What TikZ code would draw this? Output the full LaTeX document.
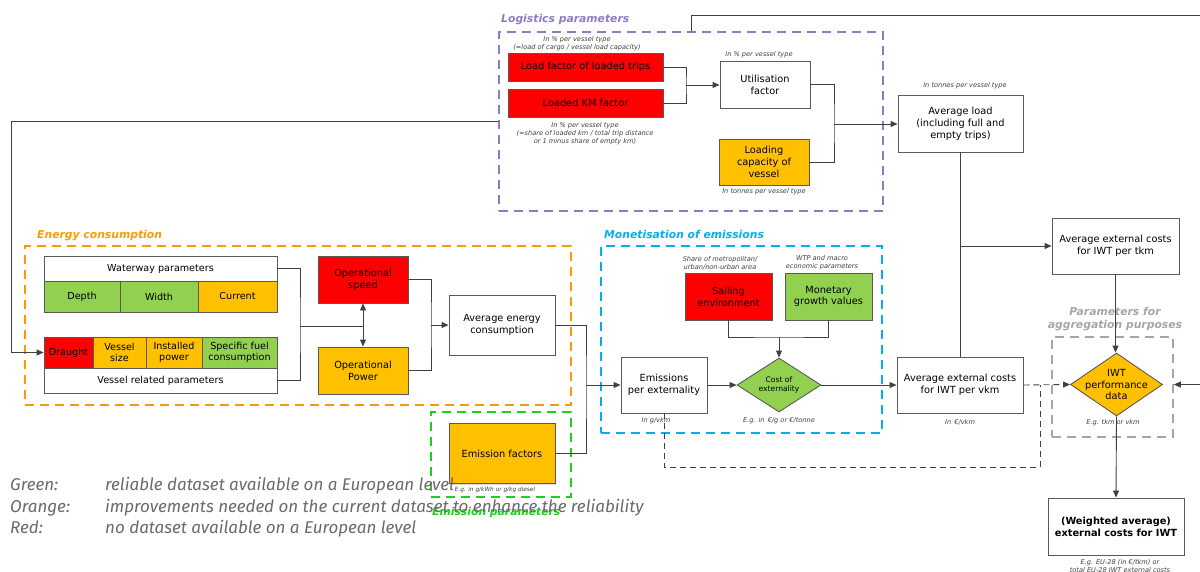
\documentclass[tikz,border=0pt]{standalone}
\usepackage{fontspec}
\setmainfont{DejaVu Sans}
\newfontfamily\legendfont{Fira Sans}
\usetikzlibrary{arrows.meta,shapes.geometric,shadows,calc}
\definecolor{cred}{HTML}{FF0000}
\definecolor{corange}{HTML}{FFC000}
\definecolor{cgreen}{HTML}{92D050}
\definecolor{bord}{HTML}{595959}
\definecolor{lin}{HTML}{404040}
\definecolor{purp}{HTML}{8E7CC3}
\definecolor{eorange}{HTML}{FF9900}
\definecolor{mblue}{HTML}{00B0F0}
\definecolor{egreen}{HTML}{1BD11B}
\definecolor{agray}{HTML}{A6A6A6}
\definecolor{legtxt}{HTML}{6A6A6A}
\tikzset{
 box/.style={draw=bord, line width=0.9pt, fill=white, align=center, inner sep=1pt,
   font=\fontsize{9.8}{11.8}\selectfont,
   drop shadow={shadow xshift=1.2pt, shadow yshift=-1.2pt, opacity=0.3}},
 cell/.style={draw=bord, line width=0.9pt, align=center, inner sep=0pt, font=\fontsize{9.6}{11.2}\selectfont},
 note/.style={font=\fontsize{6.6}{8}\selectfont\itshape, text=black!75, align=center, inner sep=0pt},
 grp/.style={line width=1.6pt, dash pattern=on 9pt off 6pt, inner sep=0pt},
 gtitle/.style={font=\fontsize{10.8}{13}\selectfont\bfseries\itshape, inner sep=0pt},
 dtext/.style={align=center, inner sep=0pt},
 conn/.style={draw=lin, line width=0.9pt},
 arr/.style={conn, -{Triangle[length=7pt,width=6pt]}},
 darr/.style={conn, {Triangle[length=7pt,width=6pt]}-{Triangle[length=7pt,width=6pt]}},
 dconn/.style={conn, dash pattern=on 6pt off 4pt},
 legend/.style={font=\legendfont\itshape\fontsize{17}{20}\selectfont, text=legtxt, inner sep=0pt, anchor=base west},
 dia/.style={diamond, draw=bord, line width=0.9pt, inner sep=0pt},
}
\begin{document}
\begin{tikzpicture}[x=1pt,y=-1pt]
\useasboundingbox (0,0) rectangle (1200,572);

% ---------- group frames ----------
\node[grp, draw=purp, minimum width=384pt, minimum height=179pt] (logi) at (691,121.5) {};
\node[gtitle, text=purp, anchor=base west] (logit) at (501,23) {Logistics parameters};
\node[grp, draw=eorange, minimum width=546pt, minimum height=159pt] (energy) at (298,325.5) {};
\node[gtitle, text=eorange, anchor=base west] (energyt) at (37,239) {Energy consumption};
\node[grp, draw=mblue, minimum width=281pt, minimum height=187pt] (mon) at (741.5,339.5) {};
\node[gtitle, text=mblue, anchor=base west] (mont) at (604,239) {Monetisation of emissions};
\node[grp, draw=egreen, minimum width=140pt, minimum height=85pt] (emp) at (501,454.5) {};
\node[gtitle, text=egreen, anchor=base west] (empt) at (432,515) {Emission parameters};
\node[grp, draw=agray, minimum width=121pt, minimum height=100pt] (aggr) at (1112.5,387) {};
\node[gtitle, text=agray, align=center] (aggrt) at (1115,319.5) {Parameters for\\aggregation purposes};

% ---------- logistics ----------
\node[box, fill=cred, minimum width=155pt, minimum height=28pt] (lf) at (585.5,67) {Load factor of loaded trips};
\node[box, fill=cred, minimum width=155pt, minimum height=28pt] (km) at (585.5,103) {Loaded KM factor};
\node[box, minimum width=90pt, minimum height=47pt] (util) at (765,84.5) {Utilisation\\factor};
\node[box, fill=corange, minimum width=90pt, minimum height=46pt] (cap) at (764,162) {Loading\\capacity of\\vessel};
\node[box, minimum width=125pt, minimum height=57pt] (avgload) at (960.5,123.5) {Average load\\(including full and\\empty trips)};
\node[note] (n1) at (577,44) {In \% per vessel type\\(=load of cargo / vessel load capacity)};
\node[note] (n2) at (585,134) {In \% per vessel type\\(=share of loaded km / total trip distance\\or 1 minus share of empty km)};
\node[note] (n3) at (759,54.5) {In \% per vessel type};
\node[note] (n4) at (764,192) {In tonnes per vessel type};
\node[note] (n5) at (965,86) {In tonnes per vessel type};

% ---------- right column ----------
\node[box, minimum width=127pt, minimum height=56pt] (tkm) at (1115.5,246) {Average external costs\\for IWT per tkm};
\node[box, minimum width=126pt, minimum height=56pt] (vkm) at (960,385) {Average external costs\\for IWT per vkm};
\node[dia, fill=corange, minimum width=92pt, minimum height=63pt] (iwt) at (1116.5,384.5) {};
\node[dtext, font=\fontsize{9.8}{11.8}\selectfont] (iwtt) at (iwt) {IWT\\performance\\data};
\node[box, minimum width=136pt, minimum height=57pt, font=\fontsize{9.8}{12.2}\selectfont\bfseries] (wavg) at (1116,526.5) {(Weighted average)\\external costs for IWT};
\node[note] (n6) at (960,422) {In \,€/vkm};
\node[note] (n7) at (1113,423) {E.g. tkm or vkm};
\node[note] (n8) at (1120,566) {E.g. EU-28 (in €/tkm) or\\total EU-28 IWT external costs};

% ---------- energy ----------
\node[cell, fill=white, minimum width=233pt, minimum height=25pt] (wp) at (160.5,268.5) {Waterway parameters};
\node[cell, fill=cgreen, minimum width=76pt, minimum height=31pt] (depth) at (82,296.5) {Depth};
\node[cell, fill=cgreen, minimum width=78pt, minimum height=31pt] (width) at (159,296.5) {Width};
\node[cell, fill=corange, minimum width=79pt, minimum height=31pt] (current) at (237.5,296.5) {Current};
\node[cell, fill=cred, minimum width=49pt, minimum height=31pt] (draught) at (68.5,352.5) {Draught};
\node[cell, fill=corange, minimum width=53pt, minimum height=31pt] (vsize) at (119.5,352.5) {Vessel\\size};
\node[cell, fill=corange, minimum width=56pt, minimum height=31pt] (ipower) at (174,352.5) {Installed\\power};
\node[cell, fill=cgreen, minimum width=75pt, minimum height=31pt] (sfc) at (239.5,352.5) {Specific fuel\\consumption};
\node[cell, fill=white, minimum width=233pt, minimum height=25pt] (vrp) at (160.5,380.5) {Vessel related parameters};
\node[box, fill=cred, minimum width=90pt, minimum height=47pt] (speed) at (363,279.5) {Operational\\speed};
\node[box, fill=corange, minimum width=90pt, minimum height=47pt] (power) at (363,370.5) {Operational\\Power};
\node[box, minimum width=106pt, minimum height=60pt] (aec) at (502,325) {Average energy\\consumption};

% ---------- emission ----------
\node[box, fill=corange, minimum width=106pt, minimum height=60pt] (ef) at (502,453.5) {Emission factors};
\node[note, font=\fontsize{5.8}{7}\selectfont\itshape] (n9) at (495,489.5) {E.g. in g/kWh or g/kg diesel};

% ---------- monetisation ----------
\node[box, fill=cred, minimum width=87pt, minimum height=47pt] (sail) at (728.5,296.5) {Sailing\\environment};
\node[box, fill=cgreen, minimum width=87pt, minimum height=47pt] (mgv) at (828.5,296.5) {Monetary\\growth values};
\node[box, minimum width=86pt, minimum height=56pt] (emis) at (664,385) {Emissions\\per externality};
\node[dia, fill=cgreen, minimum width=84pt, minimum height=54pt] (cost) at (779,385) {};
\node[dtext, font=\fontsize{7.6}{9.6}\selectfont] (costt) at (cost) {Cost of\\externality};
\node[note] (n10) at (720,263) {Share of metropolitan/\\urban/non-urban area};
\node[note] (n11) at (822,263) {WTP and macro\\economic parameters};
\node[note] (n12) at (656,420.5) {In g/vkm};
\node[note] (n13) at (779,420.5) {E.g. in \,€/g or €/tonne};

% ---------- connectors ----------
\coordinate (j1) at (686,85);
\draw[conn] (lf.east) -| (j1) |- (km.east);
\draw[arr] (j1) -- (j1 -| util.west);
\coordinate (j2) at (834,124);
\draw[conn] (util.east) -| (j2) |- (cap.east);
\draw[arr] (j2) -- (j2 -| avgload.west);
\coordinate (tr) at (1200,15);
\draw[conn] (logi.north) |- (tr);
\coordinate (lc) at (11,121.5);
\draw[arr] (logi.west) -- (lc) |- (draught.west);

\draw[conn] (avgload.south) -- (avgload.south |- vkm.north);
\draw[arr] (avgload.south |- tkm.west) -- (tkm.west);
\draw[arr] (tkm.south) -- (tkm.south |- iwt.north);
\draw[arr] (iwt.south) -- (wavg.north);
\coordinate (rin) at (1200,384.5);
\draw[arr] (rin) -- (rin -| aggr.east);
\draw[dconn, -{Triangle[length=7pt,width=6pt]}] (vkm.east) -- (iwt.west);
\coordinate (d2) at (1040,467);
\draw[dconn] (emis.south) |- (d2) -- (d2 |- vkm.east);

\coordinate (j3) at (300,326);
\draw[conn] (wp.east) -| (j3) |- (vrp.east);
\draw[conn] (j3) -- (j3 -| speed.south);
\draw[darr] (speed.south) -- (power.north);
\coordinate (j4) at (431,325);
\draw[conn] (speed.east) -| (j4) |- (power.east);
\draw[arr] (j4) -- (aec.west);
\coordinate (j5) at (586,385);
\draw[conn] (aec.east) -| (j5) |- (ef.east);
\draw[arr] (j5) -- (j5 -| emis.west);

\coordinate (j6) at (779,337);
\draw[conn] (sail.south) |- (j6) -| (mgv.south);
\draw[arr] (j6) -- (cost.north);
\draw[arr] (emis.east) -- (cost.west);
\draw[arr] (cost.east) -- (vkm.west);

% ---------- legend ----------
\node[legend] (lg1) at (10,490) {Green:};
\node[legend] (lg1t) at (105,490) {reliable dataset available on a European level};
\node[legend] (lg2) at (10,512) {Orange:};
\node[legend] (lg2t) at (105,512) {improvements needed on the current dataset to enhance the reliability};
\node[legend] (lg3) at (10,533) {Red:};
\node[legend] (lg3t) at (105,533) {no dataset available on a European level};
\end{tikzpicture}
\end{document}
